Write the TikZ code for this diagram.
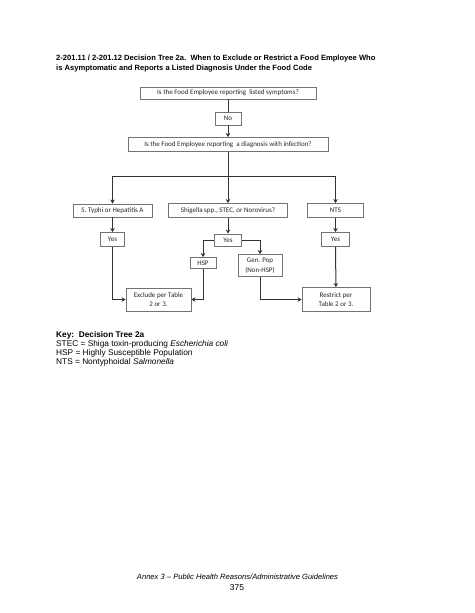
\documentclass[tikz,border=0pt]{standalone}
\usepackage{fontspec}
\setmainfont{Liberation Sans}
\newfontfamily\boxfont{Carlito}
\usetikzlibrary{arrows.meta}
\begin{document}
\begin{tikzpicture}[x=1pt,y=-1pt,
  box/.style={draw=black!55, line width=0.8pt, fill=white, inner sep=0pt,
    font=\boxfont\fontsize{7}{9.5}\selectfont, text=black!85, align=center},
  conn/.style={draw=black!80, line width=1pt},
  arr/.style={conn, -{Stealth[length=4pt,width=4.5pt,inset=1.2pt]}},
  txt/.style={inner sep=0pt, anchor=west, align=left}]
\useasboundingbox (0,0) rectangle (474,613);
\fill[white] (0,0) rectangle (474,613);
% title
\node[txt, anchor=north west, font=\bfseries\fontsize{7.6}{10}\selectfont] (title) at (56,55)
  {2-201.11 / 2-201.12 Decision Tree 2a.\ \ When to Exclude or Restrict a Food Employee Who\\
   is Asymptomatic and Reports a Listed Diagnosis Under the Food Code};
% boxes
\node[box, minimum width=176pt, minimum height=12pt] (top) at (228,93) {Is the Food Employee reporting\ \ listed symptoms?};
\node[box, minimum width=26pt, minimum height=13pt] (no) at (228,118.5) {No};
\node[box, minimum width=200pt, minimum height=14pt] (q2) at (228,144.5) {Is the Food Employee reporting\ \ a diagnosis with infection?};
\node[box, minimum width=79pt, minimum height=13pt] (L) at (112.5,210.5) {S. Typhi or Hepatitis A};
\node[box, minimum width=119pt, minimum height=14pt] (M) at (228,210.5) {Shigella spp., STEC, or Norovirus?};
\node[box, minimum width=56pt, minimum height=14pt] (R) at (335.5,210.5) {NTS};
\node[box, minimum width=24pt, minimum height=14pt] (yl) at (112.5,239.5) {Yes};
\node[box, minimum width=27pt, minimum height=12pt] (ym) at (228,240) {Yes};
\node[box, minimum width=28pt, minimum height=14pt] (yr) at (335.5,239.5) {Yes};
\node[box, minimum width=26pt, minimum height=11pt] (hsp) at (203,263) {HSP};
\node[box, minimum width=44pt, minimum height=22pt] (gp) at (260,265.5) {Gen. Pop\\(Non-HSP)};
\node[box, minimum width=65pt, minimum height=23pt] (exc) at (158.5,299.5) {Exclude per Table\\2 or 3.};
\node[box, minimum width=68pt, minimum height=24pt] (rst) at (336,299.5) {Restrict per\\Table 2 or 3.};
% connectors
\coordinate (bl) at (112.5,176);
\coordinate (bm) at (228,176);
\coordinate (br) at (335.5,176);
\draw[conn] (top) -- (no);
\draw[arr] (no) -- (q2);
\draw[conn] (q2) -- (bm);
\draw[conn] (bl) -- (br);
\draw[arr] (bl) -- (L);
\draw[arr] (bm) -- (M);
\draw[arr] (br) -- (R);
\draw[arr] (L) -- (yl);
\draw[arr] (M) -- (ym);
\draw[arr] (R) -- (yr);
\draw[arr] (yl.south) |- (exc.west);
\draw[arr] (ym.west) -| (hsp.north);
\draw[arr] (ym.east) -| (gp.north);
\draw[arr] (hsp.south) |- (exc.east);
\draw[arr] (gp.south) |- (rst.west);
\draw[arr] (yr) -- (rst);
% key
\node[txt, font=\bfseries\fontsize{8.3}{9}\selectfont] (key) at (56,335) {Key:\ \ Decision Tree 2a};
\node[txt, font=\fontsize{8.3}{9}\selectfont] (k1) at (56,344.5) {STEC = Shiga toxin-producing \textit{Escherichia coli}};
\node[txt, font=\fontsize{8.3}{9}\selectfont] (k2) at (56,353.5) {HSP = Highly Susceptible Population};
\node[txt, font=\fontsize{8.3}{9}\selectfont] (k3) at (56,362.5) {NTS = Nontyphoidal \textit{Salmonella}};
% footer
\node[inner sep=0pt, font=\itshape\fontsize{7.6}{9}\selectfont] (foot) at (237.5,577) {Annex 3 -- Public Health Reasons/Administrative Guidelines};
\node[inner sep=0pt, font=\fontsize{8.5}{9}\selectfont] (pg) at (237,588) {375};
\end{tikzpicture}
\end{document}
